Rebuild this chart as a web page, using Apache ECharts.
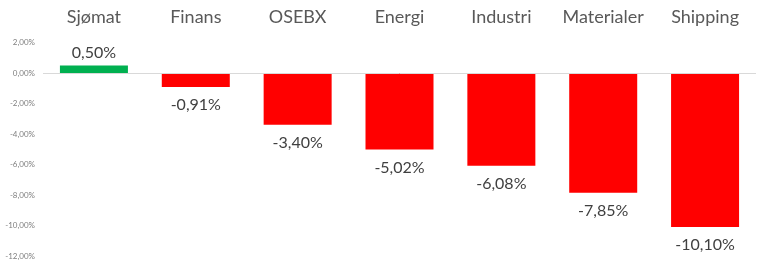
<!DOCTYPE html>
<html><head><meta charset="utf-8">
<script src="https://cdn.jsdelivr.net/npm/echarts@6/dist/echarts.min.js"></script>
<style>html,body{margin:0;padding:0;background:#fff}#c{width:767px;height:267px}</style>
</head><body><div id="c"></div>
<script>
const categories = ['Sjømat','Finans','OSEBX','Energi','Industri','Materialer','Shipping'];
const values = [0.50, -0.91, -3.40, -5.02, -6.08, -7.85, -10.10];
const yTicks = [2, 0, -2, -4, -6, -8, -10, -12];
const fmt = v => v.toFixed(2).replace('.', ',') + '%';
const chart = echarts.init(document.getElementById('c'));
chart.setOption({
  animation: false,
  grid: {left: 43, right: 11, top: 42.5, bottom: 11},
  xAxis: [{
    type: 'category', data: categories, position: 'top',
    axisLine: {show: false}, axisTick: {show: false},
    axisLabel: {interval: 0, color: '#595959', fontSize: 18, fontFamily: 'Lato', margin: 16}
  }],
  yAxis: {
    type: 'value', min: -12, max: 2, interval: 2,
    axisLine: {show: false}, axisTick: {show: false}, splitLine: {show: false},
    axisLabel: {color: '#7F7F7F', fontSize: 8, fontFamily: 'Lato', margin: 8,
      formatter: v => fmt(v)}
  },
  series: [{
    type: 'bar', barWidth: 68,
    data: values.map(v => ({value: v, itemStyle: {color: v >= 0 ? '#00B050' : '#FF0000'},
      label: {position: v >= 0 ? 'top' : 'bottom', distance: v >= 0 ? 5 : 10}})),
    label: {show: true, color: '#404040', fontSize: 16, fontFamily: 'Lato',
      formatter: p => fmt(p.value)},
    markLine: {silent: true, symbol: 'none', label: {show: false},
      lineStyle: {color: '#D9D9D9', width: 1, type: 'solid'}, data: [{yAxis: 0}]}
  }]
});
</script></body></html>
